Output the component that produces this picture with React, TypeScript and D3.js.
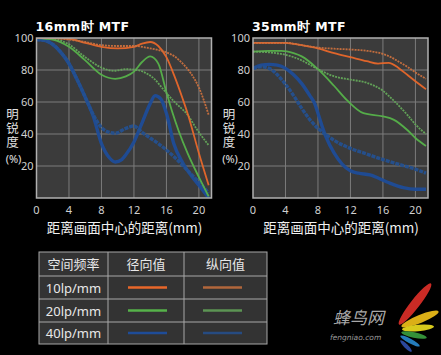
import React from "react";
import * as d3 from "d3";

const xTicks = [0, 4, 8, 12, 16, 20];
const yTicks = [20, 40, 60, 80, 100];

// Left chart (16mm)
const L10sagX = [0, 2, 4, 6, 8, 10, 12, 13, 14, 15, 16, 17, 18, 18.6, 20, 21.2];
const L10sagY = [100, 100, 99.5, 97, 94.5, 93.5, 94.5, 96.5, 97.5, 95, 88, 76, 62, 53, 28, 8];
const L10merX = [0, 2, 4, 6, 8, 10, 12, 14, 15, 16, 17, 18, 19, 20, 21.2];
const L10merY = [100, 100, 99, 97.5, 95.5, 95, 95, 93.5, 92.5, 91, 88.5, 84, 78, 69, 52];
const L20sagX = [0, 2, 4, 6, 8, 9.7, 11, 12, 13, 14, 15, 16, 16.7, 17.5, 18.6, 20, 21.2];
const L20sagY = [100, 99, 94.5, 86, 77, 74.5, 76, 79, 85, 88.5, 84, 66, 54, 42, 28, 13, 1];
const L20merX = [0, 2, 4, 6, 8, 9.5, 11, 12.4, 13.5, 14.5, 15.6, 17, 18.6, 19.8, 21.2];
const L20merY = [100, 99.5, 96, 88, 81.5, 79.5, 80.5, 80, 78, 74.5, 68, 60, 52, 42.5, 33];
const L40sagX = [0, 1, 2, 3, 4, 5, 6, 7, 8, 9, 9.7, 10.5, 11, 12, 13, 14, 14.6, 15.3, 16, 16.9, 18, 19.2, 20, 21.2];
const L40sagY = [99, 98.5, 96, 91, 84, 74, 63, 51, 34, 25, 22.5, 24, 27, 35, 47, 59, 64, 62, 53, 34, 22, 13, 8, 0];
const L40merX = [0, 1, 2, 3, 4, 5, 6, 7, 8, 9, 9.7, 11, 12, 13, 14, 15, 16, 17, 18, 19, 20, 21.2];
const L40merY = [99, 98.5, 96, 91, 84, 74, 63, 52, 44, 41, 40.5, 43.5, 45, 41, 37.5, 34, 30, 25.5, 20.5, 15, 10, 3];

// Right chart (35mm)
const R10sagX = [0, 2, 4, 6, 8, 10, 12, 14, 15.4, 16.7, 18, 19, 20, 21.3];
const R10sagY = [97, 97, 97, 95.5, 93.5, 90.5, 88, 85.5, 84, 84.5, 81, 77, 73, 68];
const R10merX = [0, 2, 4, 6, 8, 10, 12, 14, 16, 17, 18, 19, 20, 21.3];
const R10merY = [97, 97, 97, 95.5, 94, 93.3, 92.8, 92, 90, 88, 85, 82, 78.5, 74.5];
const R20sagX = [0, 2, 3.5, 5, 6, 8, 10, 11.6, 13.6, 16, 17.3, 19, 20, 21.3];
const R20sagY = [91.5, 92, 92, 90.5, 88.5, 80.5, 70, 61, 53, 51, 49, 42.5, 37.5, 32.5];
const R20merX = [0, 2, 4, 6, 8, 10, 12, 14, 16, 17.3, 19, 20, 21.3];
const R20merY = [91.5, 91, 89.5, 86, 80.5, 76, 74, 72, 67, 61, 52, 46, 40];
const R40sagX = [0, 1, 2, 3, 4, 5, 6, 7, 7.6, 8, 8.5, 9, 10, 11, 12, 13, 14.4, 16.5, 18.5, 20, 21.3];
const R40sagY = [81, 83, 83.5, 83, 81, 77, 71.5, 64, 59, 53, 45, 38, 28, 21, 17, 15.5, 14.4, 10, 6.5, 5.5, 5.5];
const R40merX = [0, 1, 2, 3, 4, 5, 6, 7, 8, 9, 10, 12, 14, 16, 18, 20, 21.3];
const R40merY = [81, 82, 81, 77, 71, 64, 56, 49, 43.5, 39.5, 36, 31, 27.5, 24, 21, 18, 15.5];

const tableHeader = ["空间频率", "径向值", "纵向值"];
const freqLabels = ["10lp/mm", "20lp/mm", "40lp/mm"];
const yTitle = "明锐度";
const yTitleUnit = "(%)";

const C = {
  o: "#e8672a", oD: "#c9703e",
  g: "#56b24a", gD: "#64a65a",
  b: "#1e4c98", bD: "#24508f",
};
const styles = [
  { c: C.o, w: 1.8, dash: "" }, { c: C.oD, w: 1.8, dash: "2,1" },
  { c: C.g, w: 1.8, dash: "" }, { c: C.gD, w: 1.8, dash: "2,1" },
  { c: C.b, w: 3.4, dash: "" }, { c: C.bD, w: 3.4, dash: "4,1" },
];

const FONT = "'Noto Sans', 'Noto Sans CJK SC', sans-serif";
const CJK = "'Noto Sans CJK SC', sans-serif";

function Chart({ left, title, series }: { left: number; title: string; series: [number[], number[]][] }) {
  const x = d3.scaleLinear().domain([0, 21.55]).range([left, left + 175]);
  const y = d3.scaleLinear().domain([0, 100]).range([198, 38]);
  const line = d3.line<[number, number]>().x(d => x(d[0])).y(d => y(d[1])).curve(d3.curveMonotoneX);
  const id = "clip" + Math.round(left);
  const order = [4, 5, 2, 3, 0, 1];
  return (
    <g>
      <text x={left - 1} y={31} fill="#fff" fontFamily="'DejaVu Sans', sans-serif" fontWeight="bold" fontSize={12.5} letterSpacing={0.4}>{title}</text>
      <defs><clipPath id={id}><rect x={left} y={38} width={175} height={160} /></clipPath></defs>
      <rect x={left} y={38} width={175} height={160} fill="#3b3b3b" />
      {xTicks.slice(1).map(t => <line key={"gx" + t} x1={x(t)} x2={x(t)} y1={38} y2={198} stroke="#7c7c7c" strokeWidth={1} />)}
      {yTicks.slice(0, 4).map(t => <line key={"gy" + t} x1={left} x2={left + 175} y1={y(t)} y2={y(t)} stroke="#7c7c7c" strokeWidth={1} />)}
      <g clipPath={`url(#${id})`}>
        {order.map(i => (
          <path key={i} d={line(series[i][0].map((v, k) => [v, series[i][1][k]] as [number, number])) || ""}
            fill="none" stroke={styles[i].c} strokeWidth={styles[i].w} strokeDasharray={styles[i].dash} opacity={0.95} />
        ))}
      </g>
      <rect x={left} y={38} width={175} height={160} fill="none" stroke="#b0b0b0" strokeWidth={1.5} />
      {yTicks.map(t => <text key={"ty" + t} x={left - 3} y={y(t) + 4} textAnchor="end" fill="#d0d0d0" fontFamily={FONT} fontSize={11}>{t}</text>)}
      {xTicks.map(t => <text key={"tx" + t} x={x(t)} y={214} textAnchor="middle" fill="#d0d0d0" fontFamily={FONT} fontSize={11}>{t}</text>)}
      <text x={left - 24} y={108} fill="#e0e0e0" fontFamily={CJK} fontSize={12.5} letterSpacing={1.5}
        writingMode="vertical-rl" style={{ writingMode: "vertical-rl" }}>{yTitle}</text>
      <text x={left - 23} y={163} textAnchor="middle" fill="#e0e0e0" fontFamily={FONT} fontSize={11}>{yTitleUnit}</text>
      <text x={left + 88} y={233} textAnchor="middle" fill="#f0f0f0" fontFamily={CJK} fontSize={13.5}>距离画面中心的距离(mm)</text>
    </g>
  );
}

export default function App() {
  const leftSeries: [number[], number[]][] = [
    [L10sagX, L10sagY], [L10merX, L10merY], [L20sagX, L20sagY], [L20merX, L20merY], [L40sagX, L40sagY], [L40merX, L40merY],
  ];
  const rightSeries: [number[], number[]][] = [
    [R10sagX, R10sagY], [R10merX, R10merY], [R20sagX, R20sagY], [R20merX, R20merY], [R40sagX, R40sagY], [R40merX, R40merY],
  ];
  const colX = [39, 108, 184, 267];
  const rowY = [252, 276, 299, 322, 344];
  return (
    <svg width={441} height={355} style={{ position: "fixed", left: 0, top: 0, background: "#000" }}>
      <rect x={0} y={0} width={441} height={355} fill="#000" />
      <Chart left={36.5} title="16mm时 MTF" series={leftSeries} />
      <Chart left={253} title="35mm时 MTF" series={rightSeries} />
      {/* table */}
      <rect x={colX[0]} y={rowY[0]} width={colX[3] - colX[0]} height={rowY[4] - rowY[0]} fill="#333" stroke="#a8a8a8" strokeWidth={1} />
      {colX.slice(1, 3).map(cx => <line key={"c" + cx} x1={cx} x2={cx} y1={rowY[0]} y2={rowY[4]} stroke="#a8a8a8" />)}
      {rowY.slice(1, 4).map(ry => <line key={"r" + ry} x1={colX[0]} x2={colX[3]} y1={ry} y2={ry} stroke="#a8a8a8" />)}
      {tableHeader.map((h, i) => (
        <text key={h} x={(colX[i] + colX[i + 1]) / 2} y={(rowY[0] + rowY[1]) / 2 + 5} textAnchor="middle" fill="#e8e8e8" fontFamily={CJK} fontSize={13}>{h}</text>
      ))}
      {freqLabels.map((f, r) => {
        const cy = (rowY[r + 1] + rowY[r + 2]) / 2;
        const s1 = styles[r * 2], s2 = styles[r * 2 + 1];
        return (
          <g key={f}>
            <text x={(colX[0] + colX[1]) / 2} y={cy + 5} textAnchor="middle" fill="#e8e8e8" fontFamily={FONT} fontSize={13}>{f}</text>
            <line x1={128} x2={167} y1={cy} y2={cy} stroke={s1.c} strokeWidth={2.4} />
            <line x1={203} x2={242} y1={cy} y2={cy} stroke={s2.c} strokeWidth={2.4} opacity={0.85} />
          </g>
        );
      })}
      {/* watermark */}
      <g opacity={0.9}>
        <text x={333} y={324} fill="#bbb" fontFamily={CJK} fontSize={17} fontStyle="italic">蜂鸟网</text>
        <text x={330} y={340} fill="#aaa" fontFamily="'DejaVu Sans', sans-serif" fontSize={7.5} fontStyle="italic">fengniao.com</text>
        <ellipse cx={415} cy={304} rx={26} ry={4.5} fill="#e0302a" transform="rotate(-52 415 304)" />
        <ellipse cx={420} cy={319} rx={20} ry={4} fill="#f3c21a" transform="rotate(-22 420 319)" />
        <ellipse cx={418} cy={328} rx={16} ry={3.2} fill="#f0e020" transform="rotate(-5 418 328)" />
        <ellipse cx={414} cy={335} rx={13} ry={2.8} fill="#3aa040" transform="rotate(12 414 335)" />
        <ellipse cx={410} cy={341} rx={11} ry={2.4} fill="#2a8ad0" transform="rotate(28 410 341)" />
        <ellipse cx={406} cy={346} rx={8} ry={2} fill="#3050b0" transform="rotate(45 406 346)" />
      </g>
    </svg>
  );
}
